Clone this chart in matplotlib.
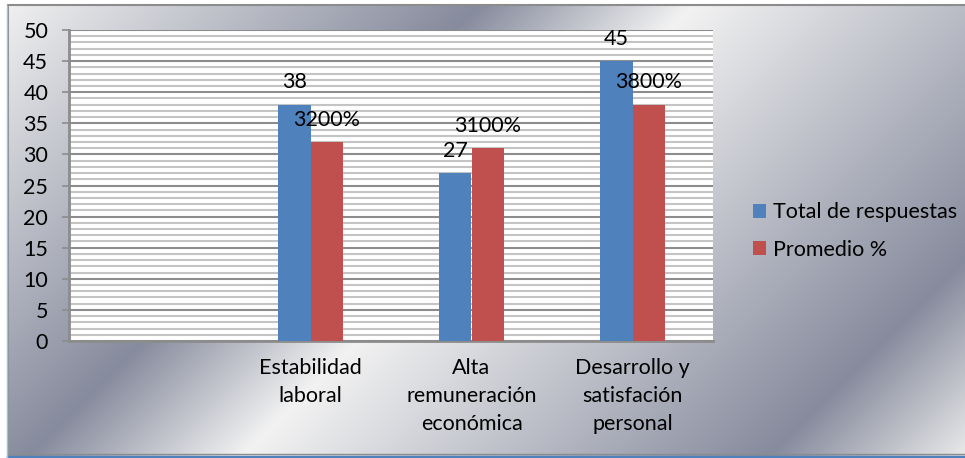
import numpy as np
import matplotlib
matplotlib.use('Agg')
import matplotlib.pyplot as plt
from matplotlib.ticker import MultipleLocator

plt.rcParams['font.family'] = ['Lato', 'DejaVu Sans']

# datos
categorias = ['', 'Estabilidad\nlaboral', 'Alta\nremuneración\neconómica',
              'Desarrollo y\nsatisfación\npersonal']
total_respuestas = [np.nan, 38, 27, 45]
promedio = [np.nan, 32, 31, 38]
etiquetas_promedio = ['', '3200%', '3100%', '3800%']
serie_nombres = ['Total de respuestas', 'Promedio %']

FS = 15.5
W, H = 965, 458
fig = plt.figure(figsize=(W / 100, H / 100), dpi=100)

# fondo degradado plateado (diagonal)
bg = fig.add_axes([0, 0, 1, 1], zorder=-10)
yy, xx = np.mgrid[0:H, 0:W]
t = (xx + 1.0 * yy) / (W + H)
stops = [0.0, 0.34, 0.49, 0.86, 1.0]
light = np.array([242, 242, 242]) / 255
dark = np.array([134, 139, 157]) / 255
cols = [light, dark, light, dark, light * 0.97]
img = np.zeros((H, W, 3))
for c in range(3):
    img[..., c] = np.interp(t, stops, [col[c] for col in cols])
img[:5, :] = 1.0
img[:, :8] = 1.0
bg.imshow(img, aspect='auto', extent=[0, W, H, 0])
bg.set_xlim(0, W)
bg.set_ylim(H, 0)
bg.plot([8, 8, W], [H - 3, 5, 5], color='#8c8c8c', lw=1.5)
bg.plot([8, W], [H - 4, H - 4], color='#8c8c8c', lw=1.0)
bg.plot([8, W], [H - 1.5, H - 1.5], color='#4f81bd', lw=2.5)
bg.plot([7, 7], [6, H], color='#9dc3e6', lw=1.0)
bg.axis('off')

ax = fig.add_axes([69 / W, 1 - 341 / H, (713 - 69) / W, (341 - 30) / H])
ax.set_facecolor('white')

x = np.arange(len(categorias))
width = 0.2
b1 = ax.bar(x - width / 2, total_respuestas, width, color='#4f81bd',
            label=serie_nombres[0], zorder=3)
b2 = ax.bar(x + width / 2, promedio, width, color='#c0504d',
            label=serie_nombres[1], zorder=3)

for xi, v in zip(x, total_respuestas):
    if not np.isnan(v):
        ax.annotate(f'{v:g}', (xi - width / 2, v), xytext=(0, 16),
                    textcoords='offset points', ha='center', va='center',
                    fontsize=FS, color='black', zorder=5)
for xi, v, lab in zip(x, promedio, etiquetas_promedio):
    if not np.isnan(v):
        ax.annotate(lab, (xi + width / 2, v), xytext=(0, 16),
                    textcoords='offset points', ha='center', va='center',
                    fontsize=FS, color='black', zorder=5)

ax.set_xlim(-0.5, len(categorias) - 0.5)
ax.set_ylim(0, 50)
ax.yaxis.set_major_locator(MultipleLocator(5))
ax.yaxis.set_minor_locator(MultipleLocator(1))
ax.grid(which='minor', axis='y', color='#c4c4c4', lw=1.5, zorder=1)
ax.grid(which='major', axis='y', color='#8c8c8c', lw=1.5, zorder=2)
ax.set_xticks(x)
ax.set_xticklabels(categorias, fontsize=FS, linespacing=1.5, va='top')
ax.tick_params(axis='x', length=0, pad=12)
ax.tick_params(axis='y', which='major', length=5, width=1.2, color='#8c8c8c',
               labelsize=FS, pad=10)
ax.tick_params(axis='y', which='minor', length=0)
for s in ['top', 'right']:
    ax.spines[s].set_visible(False)
for s in ['left', 'bottom']:
    ax.spines[s].set_color('#8c8c8c')
    ax.spines[s].set_linewidth(2)

fig.legend(handles=[b1, b2], labels=serie_nombres, loc='upper left',
           bbox_to_anchor=(734 / W, 1 - 183 / H), frameon=False,
           fontsize=FS, handlelength=0.6, handleheight=0.6,
           handletextpad=0.3, labelspacing=0.8)

fig.savefig('out.png', dpi=100)
